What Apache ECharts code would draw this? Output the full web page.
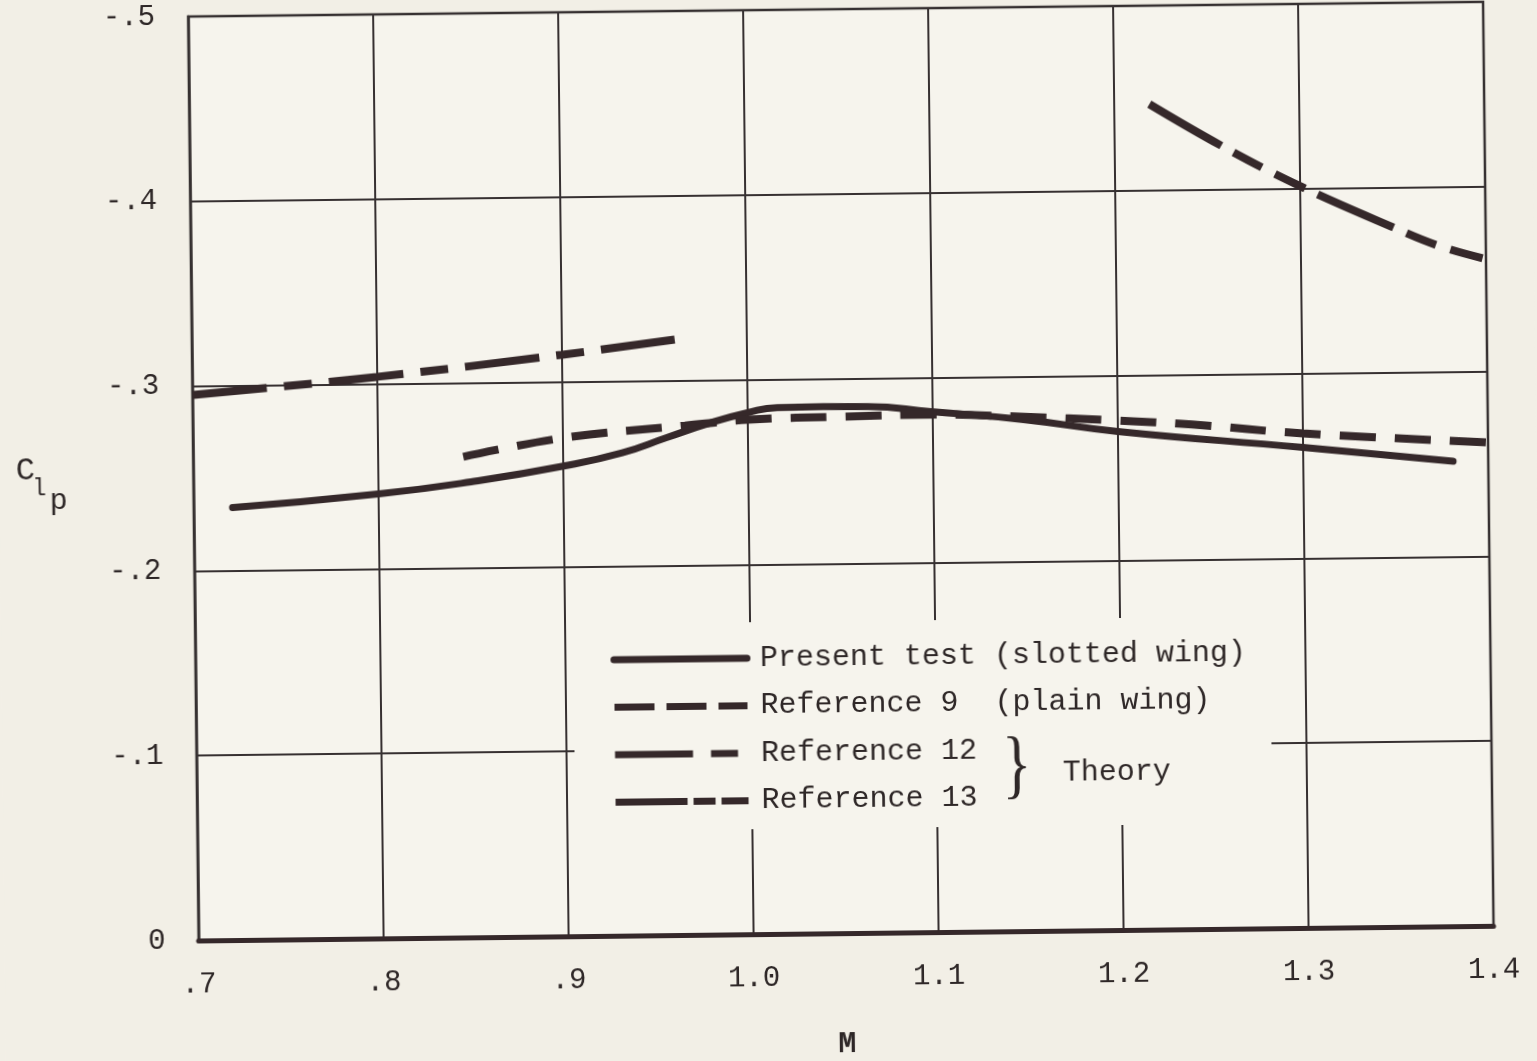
<!DOCTYPE html>
<html><head><meta charset="utf-8">
<script src="https://cdn.jsdelivr.net/npm/echarts/dist/echarts.min.js"></script>
<style>
html,body{margin:0;padding:0;background:#f2efe6;overflow:hidden}
#c{position:absolute;left:0;top:-30px;width:1537px;height:1121px;transform:rotate(-0.65deg);transform-origin:768px 560px}
</style></head><body><div id="c"></div>
<script>
// ---- data (Mach number M, rolling-moment coefficient C_lp) ----
const presentM  = [0.721, 0.800, 0.850, 0.901, 0.932, 0.956, 0.980, 1.000, 1.016, 1.041, 1.065, 1.099, 1.149, 1.200, 1.300, 1.381];
const presentCl = [-0.234, -0.2405, -0.2465, -0.2546, -0.2613, -0.2692, -0.2770, -0.2822, -0.2848, -0.2850, -0.2848, -0.2817, -0.2768, -0.2698, -0.2600, -0.2516];

const ref9M  = [0.846, 0.901, 0.966, 1.000, 1.052, 1.099, 1.147, 1.200, 1.240, 1.300, 1.400];
const ref9Cl = [-0.2601, -0.2698, -0.2756, -0.2784, -0.2795, -0.2801, -0.2784, -0.2757, -0.2731, -0.2676, -0.2616];

const ref12M  = [0.700, 0.800, 0.900, 0.961];
const ref12Cl = [-0.2952, -0.3039, -0.3147, -0.3222];

const ref13M  = [1.219, 1.259, 1.300, 1.351, 1.375, 1.400];
const ref13Cl = [-0.4467, -0.4230, -0.4014, -0.3781, -0.3681, -0.3608];

const seriesNames = ['Present test (slotted wing)', 'Reference 9  (plain wing)', 'Reference 12', 'Reference 13'];
const xTickLabels = ['.7', '.8', '.9', '1.0', '1.1', '1.2', '1.3', '1.4'];
const yTickLabels = ['-.5', '-.4', '-.3', '-.2', '-.1', '0'];

// ---- styling ----
const ink = '#35282a';
const textInk = '#2e2727';
const gridInk = '#363031';
const paper = '#f2efe6';
const plotPaper = '#f6f4ed';
const mono = '"Liberation Mono", "DejaVu Sans Mono", monospace';
const serif = '"Liberation Serif", serif';
const OFF = 30; // canvas extends 30px above the window

function zip(a, b) { return a.map((v, i) => [v, b[i]]); }

const chart = echarts.init(document.getElementById('c'), null, { renderer: 'canvas' });

function txt(x, y, text, size, font, extra) {
  return Object.assign({ type: 'text', z: 5, x: x, y: y + OFF,
    style: { text: text, fontFamily: font, fontSize: size, fill: textInk,
      align: 'center', verticalAlign: 'middle', textAlign: 'center', textVerticalAlign: 'middle' } }, extra || {});
}

const option = {
  backgroundColor: paper,
  animation: false,
  grid: {
    left: 194, top: 10 + OFF, width: 1295, height: 924,
    show: true, backgroundColor: plotPaper, borderColor: gridInk, borderWidth: 2.5,
    containLabel: false, outerBoundsMode: 'none'
  },
  xAxis: {
    type: 'value', min: 0.7, max: 1.4, interval: 0.1,
    name: 'M', nameLocation: 'middle', nameGap: 96,
    nameTextStyle: { fontFamily: mono, fontSize: 30, fontWeight: 'bold', color: textInk },
    axisLine: { show: true, onZero: false, lineStyle: { color: ink, width: 5 } },
    axisTick: { show: false },
    axisLabel: {
      margin: 30, fontFamily: mono, fontSize: 29, color: textInk,
      formatter: v => xTickLabels[Math.round((v - 0.7) / 0.1)]
    },
    splitLine: { show: true, lineStyle: { color: gridInk, width: 2 } }
  },
  yAxis: {
    type: 'value', min: -0.5, max: 0, interval: 0.1, inverse: true,
    axisLine: { show: true, onZero: false, lineStyle: { color: gridInk, width: 2.5 } },
    axisTick: { show: false },
    axisLabel: {
      margin: 33, fontFamily: mono, fontSize: 29, color: textInk,
      formatter: v => yTickLabels[Math.round((v + 0.5) / 0.1)]
    },
    splitLine: { show: true, lineStyle: { color: gridInk, width: 2 } }
  },
  legend: {
    orient: 'vertical', left: 609, top: 643 + OFF, padding: 0,
    itemWidth: 133, itemHeight: 14, itemGap: 17.5,
    selectedMode: false,
    itemStyle: { opacity: 0 },
    textStyle: { fontFamily: mono, fontSize: 30, color: textInk, padding: [0, 0, 0, 8] },
    data: [
      { name: seriesNames[0], lineStyle: { color: ink, width: 7, type: 'solid' } },
      { name: seriesNames[1], lineStyle: { color: ink, width: 7, type: [40, 12] } },
      { name: seriesNames[2], lineStyle: { color: ink, width: 7, type: [78, 18, 27, 20] } },
      { name: seriesNames[3], lineStyle: { color: ink, width: 7, type: [72, 6, 22, 6, 28, 6] } }
    ]
  },
  graphic: {
    elements: [
      { type: 'rect', z: 1, silent: true, shape: { x: 572, y: 622 + OFF, width: 697, height: 207 }, style: { fill: plotPaper } },
      txt(26, 463, 'C', 32, mono),
      txt(40, 481, 'l', 23, mono),
      txt(59, 493, 'p', 30, mono),
      txt(1014, 772, '}', 76, serif, { scaleX: 0.8 }),
      txt(1114, 776, 'Theory', 30, mono)
    ]
  },
  series: [
    { type: 'line', name: seriesNames[0], data: zip(presentM, presentCl), symbol: 'none', showSymbol: false, smooth: 0.5, z: 3,
      itemStyle: { color: ink }, lineStyle: { color: ink, width: 7, type: 'solid', cap: 'round' } },
    { type: 'line', name: seriesNames[1], data: zip(ref9M, ref9Cl), symbol: 'none', showSymbol: false, smooth: 0.4, z: 3,
      itemStyle: { color: ink }, lineStyle: { color: ink, width: 8, type: [36, 19] } },
    { type: 'line', name: seriesNames[2], data: zip(ref12M, ref12Cl), symbol: 'none', showSymbol: false, smooth: 0.4, z: 3,
      itemStyle: { color: ink }, lineStyle: { color: ink, width: 8, type: [75, 17, 28, 17] } },
    { type: 'line', name: seriesNames[3], data: zip(ref13M, ref13Cl), symbol: 'none', showSymbol: false, smooth: 0.4, z: 3,
      itemStyle: { color: ink }, lineStyle: { color: ink, width: 8, type: [83, 14, 32, 15, 33, 14] } }
  ]
};
chart.setOption(option);
</script></body></html>
